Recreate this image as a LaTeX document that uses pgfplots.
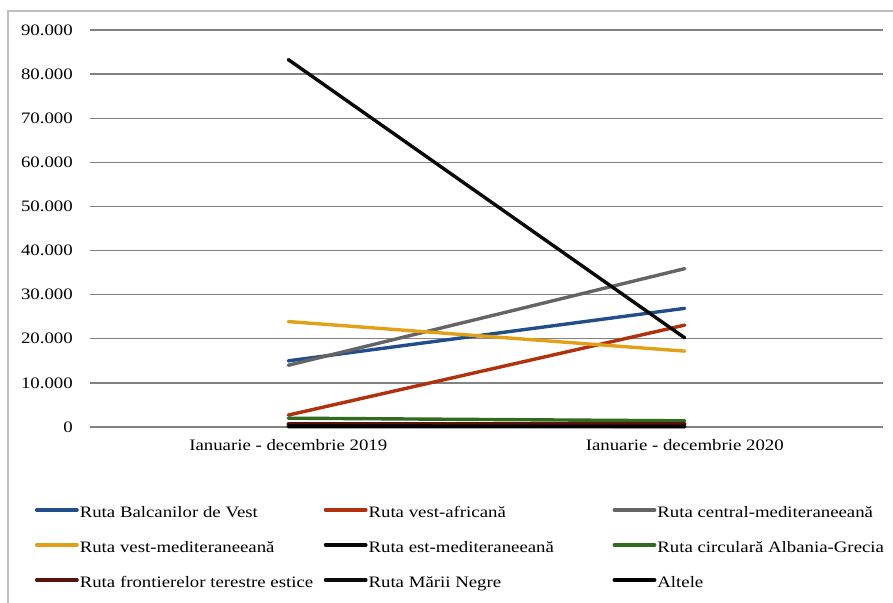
\documentclass[border=0pt]{standalone}
\usepackage{pgfplots}
\usepackage{pgfplotstable}
\pgfplotsset{compat=1.18}
\usepackage{fontspec}
\setmainfont{Liberation Serif}[FakeStretch=1.18]

\definecolor{cBalc}{RGB}{33,78,138}
\definecolor{cVAfr}{RGB}{178,48,12}
\definecolor{cCMed}{RGB}{100,100,100}
\definecolor{cVMed}{RGB}{226,160,22}
\definecolor{cEMed}{RGB}{8,8,8}
\definecolor{cAlb}{RGB}{48,108,30}
\definecolor{cFront}{RGB}{90,18,12}
\definecolor{cNeagra}{RGB}{12,12,12}
\definecolor{cAlt}{RGB}{0,0,0}
\definecolor{gridc}{RGB}{130,130,130}
\definecolor{framec}{RGB}{190,190,190}

% Detected illegal crossings by route, 2019 (x=0) and 2020 (x=1)
\pgfplotstableread{
x  balc  vafr  cmed  vmed  emed  alb   front neagra alt
0  15000 2700  14000 23900 83300 2000  700   100    200
1  26900 23100 35900 17200 20200 1400  700   50     150
}\routes

\newcommand{\lgd}[1]{\makebox[244bp][l]{#1}}

\begin{document}
\fontsize{16}{19}\selectfont
\begin{tikzpicture}
\useasboundingbox (-90bp,-176bp) rectangle (803bp,427bp);
\draw[framec, line width=1.2bp] (-82bp,-180bp) -- (-82bp,416bp) -- (810bp,416bp);
\begin{axis}[
  at={(0,0)}, anchor=south west,
  scale only axis,
  width=793bp, height=397bp,
  xmin=-0.5, xmax=1.5,
  ymin=0, ymax=90000,
  xtick={0,1},
  xticklabels={Ianuarie - decembrie 2019, Ianuarie - decembrie 2020},
  ytick={0,10000,...,90000},
  axis line style={draw=none},
  major tick length=0pt,
  ymajorgrids,
  grid style={gridc, line width=1.3bp},
  scaled y ticks=false,
  /pgf/number format/.cd, fixed, precision=0, 1000 sep={.}, assume math mode=true,
  /pgfplots/.cd,
  yticklabel style={inner sep=0pt, anchor=east, xshift=-17bp},
  xticklabel style={inner sep=0pt, anchor=north, yshift=-12bp},
  tick label style={font=\fontsize{16}{19}\selectfont},
  clip=false,
  legend columns=3,
  legend style={
    draw=none, fill=none,
    at={(-0.0694,-0.2002)}, anchor=north west,
    inner sep=0pt, outer sep=0pt,
    row sep=20bp, column sep=0pt,
    nodes={inner sep=0pt, text height=11bp, text depth=4bp},
    font=\fontsize{16}{19}\selectfont,
    /tikz/every odd column/.append style={column sep=1bp},
  },
  legend cell align=left,
  legend image code/.code={\draw[#1, line cap=round] (1.6bp,4bp) -- (42bp,4bp);},
  every axis plot/.append style={line width=3.4bp, line cap=round, mark=none},
]
\addplot[cBalc]   table[x=x, y=balc]   {\routes};
\addlegendentry{\lgd{Ruta Balcanilor de Vest}}
\addplot[cVAfr]   table[x=x, y=vafr]   {\routes};
\addlegendentry{\lgd{Ruta vest-africană}}
\addplot[cCMed]   table[x=x, y=cmed]   {\routes};
\addlegendentry{\lgd{Ruta central-mediteraneeană}}
\addplot[cVMed]   table[x=x, y=vmed]   {\routes};
\addlegendentry{\lgd{Ruta vest-mediteraneeană}}
\addplot[cEMed]   table[x=x, y=emed]   {\routes};
\addlegendentry{\lgd{Ruta est-mediteraneeană}}
\addplot[cAlb]    table[x=x, y=alb]    {\routes};
\addlegendentry{\lgd{Ruta circulară Albania-Grecia}}
\addplot[cFront]  table[x=x, y=front]  {\routes};
\addlegendentry{\lgd{Ruta frontierelor terestre estice}}
\addplot[cNeagra] table[x=x, y=neagra] {\routes};
\addlegendentry{\lgd{Ruta Mării Negre}}
\addplot[cAlt]    table[x=x, y=alt]    {\routes};
\addlegendentry{Altele}
\end{axis}
\end{tikzpicture}
\end{document}
